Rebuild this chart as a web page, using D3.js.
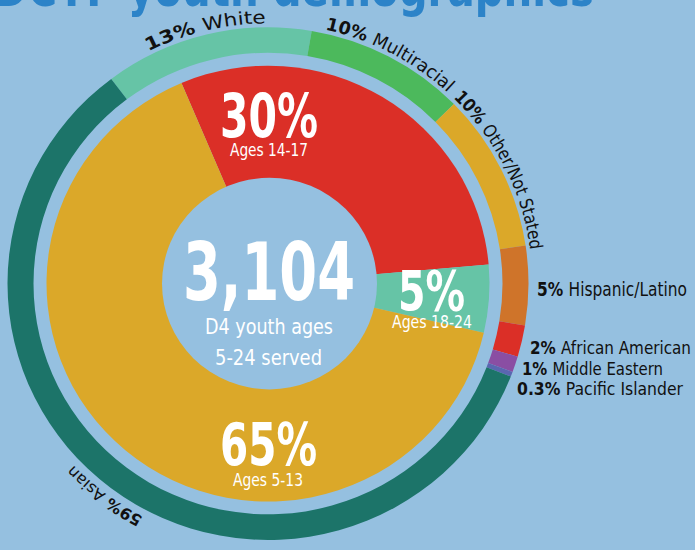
<!DOCTYPE html>
<html>
<head>
<meta charset="utf-8">
<script src="https://cdn.jsdelivr.net/npm/d3@7"></script>
<style>
body { margin: 0; background: #95c0e0; overflow: hidden; }
svg { display: block; }
text { font-family: "Liberation Sans Narrow", "DejaVu Sans Condensed", "Arial Narrow", sans-serif; }
</style>
</head>
<body>
<svg id="chart"></svg>
<script>
//data
const ageGroups = ["Ages 14-17", "Ages 18-24", "Ages 5-13"];
const agePct = [30, 5, 65];
const races = ["White", "Multiracial", "Other/Not Stated", "Hispanic/Latino",
               "African American", "Middle Eastern", "Pacific Islander", "Asian"];
const racePct = [13, 10, 10, 5, 2, 1, 0.3, 59];
const totalServed = "3,104";
const centerLines = ["D4 youth ages", "5-24 served"];
const title = "DCYF youth demographics";

//colors
const ageColors = ["#db2f27", "#66c4a6", "#dba829"];
const raceColors = ["#66c4a6", "#4cb95c", "#dba829", "#cf742a", "#db2f27", "#8a4ea3", "#5a66b0", "#1c7469"];

//constants
const W = 695, H = 550;
const cx = 268, cy = 283.6, squash = 0.984;
const pieR = 221.5, holeR = 107.5;
const ringIn = 234.5, ringOut = 260.5;
const deg = Math.PI / 180;

const svg = d3.select("#chart").attr("width", W).attr("height", H);

//title (cut off at the top edge)
svg.append("text")
    .attr("x", -6).attr("y", 6)
    .attr("textLength", 600).attr("lengthAdjust", "spacingAndGlyphs")
    .style("font-size", "52px").style("font-weight", 900)
    .style("fill", "#2c83c8")
    .text(title);

const g = svg.append("g")
    .attr("transform", `translate(${cx},${cy}) scale(1,${squash})`);

//inner pie (ages)
const agePie = d3.pie().sort(null).startAngle(-23 * deg).endAngle(337 * deg)(agePct);
g.selectAll(".age")
    .data(agePie)
    .enter()
    .append("path")
    .attr("class", "age")
    .attr("d", d3.arc().innerRadius(0).outerRadius(pieR))
    .style("fill", (d, i) => ageColors[i]);

g.append("circle")
    .attr("cx", 1.5).attr("r", holeR)
    .style("fill", "#95c0e0");

//outer ring (race)
const racePie = d3.pie().sort(null).startAngle(-37 * deg).endAngle(323 * deg)(racePct);
g.selectAll(".race")
    .data(racePie)
    .enter()
    .append("path")
    .attr("class", "race")
    .attr("d", d3.arc().innerRadius(ringIn).outerRadius(ringOut))
    .style("fill", (d, i) => raceColors[i]);

//curved labels along the ring
const curved = [
    {i: 0, len: 122, size: 18, r: 264.5},
    {i: 1, len: 140, size: 18, r: 264.5},
    {i: 2, len: 176, size: 18, r: 264.5},
    {i: 7, len: 88, size: 16, r: 268}
];
curved.forEach(c => {
    const d = racePie[c.i];
    const mid = (d.startAngle + d.endAngle) / 2 - Math.PI / 2;
    const p = d3.path();
    p.arc(0, 0, c.r, mid - 1.2, mid + 1.2);
    g.append("path")
        .attr("id", "lbl" + c.i)
        .attr("d", p.toString())
        .style("fill", "none");
    const t = g.append("text")
        .style("font-size", c.size + "px")
        .style("fill", "#111")
        .append("textPath")
        .attr("href", "#lbl" + c.i)
        .attr("startOffset", "50%")
        .attr("text-anchor", "middle")
        .attr("textLength", c.len)
        .attr("lengthAdjust", "spacingAndGlyphs");
    t.append("tspan").style("font-weight", 900).text(racePct[c.i] + "% ");
    t.append("tspan").text(races[c.i]);
});

//straight labels on the right
const sideLabels = [
    {i: 3, x: 537, y: 296, len: 150, size: 19},
    {i: 4, x: 530, y: 354, len: 161, size: 17},
    {i: 5, x: 522, y: 375, len: 141, size: 17},
    {i: 6, x: 517, y: 395, len: 166, size: 17}
];
sideLabels.forEach(s => {
    const t = svg.append("text")
        .attr("x", s.x).attr("y", s.y)
        .attr("textLength", s.len).attr("lengthAdjust", "spacingAndGlyphs")
        .style("font-size", s.size + "px")
        .style("fill", "#111");
    t.append("tspan").style("font-weight", 900).text(racePct[s.i] + "% ");
    t.append("tspan").text(races[s.i]);
});

//age labels inside the pie
const ageText = [
    {i: 0, x: 269, y: 137, len: 98, size: 60, sx: 269, sy: 156, slen: 78},
    {i: 1, x: 431.5, y: 310, len: 67, size: 56, sx: 432, sy: 328, slen: 80},
    {i: 2, x: 268.5, y: 465, len: 97, size: 58, sx: 268, sy: 486, slen: 70}
];
ageText.forEach(a => {
    svg.append("text")
        .attr("x", a.x).attr("y", a.y)
        .attr("text-anchor", "middle")
        .attr("textLength", a.len).attr("lengthAdjust", "spacingAndGlyphs")
        .style("font-size", a.size + "px").style("font-weight", 900)
        .style("fill", "#fff")
        .text(agePct[a.i] + "%");
    svg.append("text")
        .attr("x", a.sx).attr("y", a.sy)
        .attr("text-anchor", "middle")
        .attr("textLength", a.slen).attr("lengthAdjust", "spacingAndGlyphs")
        .style("font-size", "17px")
        .style("fill", "#fff")
        .text(ageGroups[a.i]);
});

//center
svg.append("text")
    .attr("x", 269).attr("y", 300)
    .attr("text-anchor", "middle")
    .attr("textLength", 172).attr("lengthAdjust", "spacingAndGlyphs")
    .style("font-size", "80px").style("font-weight", 900)
    .style("fill", "#fff")
    .text(totalServed);

svg.append("text")
    .attr("x", 269).attr("y", 334)
    .attr("text-anchor", "middle")
    .attr("textLength", 128).attr("lengthAdjust", "spacingAndGlyphs")
    .style("font-size", "21px")
    .style("fill", "#fff")
    .text(centerLines[0]);

svg.append("text")
    .attr("x", 268.5).attr("y", 365)
    .attr("text-anchor", "middle")
    .attr("textLength", 107).attr("lengthAdjust", "spacingAndGlyphs")
    .style("font-size", "21px")
    .style("fill", "#fff")
    .text(centerLines[1]);
</script>
</body>
</html>
